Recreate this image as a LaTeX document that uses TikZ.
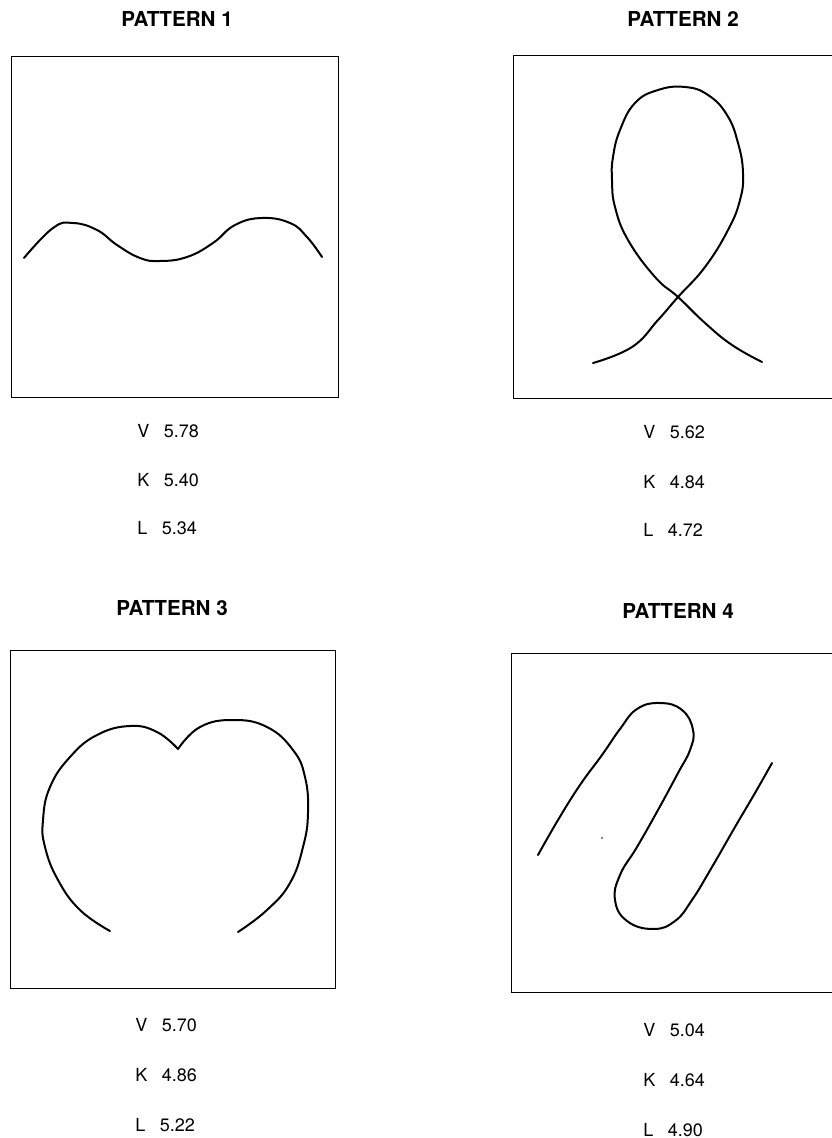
\documentclass[tikz,border=0pt]{standalone}
\usepackage{fontspec}
\setmainfont{TeX Gyre Heros}
\usepackage{tikz}
\usetikzlibrary{positioning}
\tikzset{
  frm/.style={line width=0.5pt},
  crv/.style={line width=1pt,smooth,tension=0.75,line cap=round,line join=round},
  hd/.style={font=\fontsize{10.3}{12}\selectfont\bfseries,inner sep=0pt},
  lbl/.style={font=\fontsize{9}{11}\selectfont,anchor=west,inner sep=0pt}
}
\newcommand{\val}[2]{#1\hspace{0.8em}#2}

\begin{document}
\begin{tikzpicture}[x=0.5pt,y=-0.5pt]
\useasboundingbox (0,0) rectangle (831,1138);

% pattern 1
\node[hd] (t1) at (177,19) {PATTERN 1};
\draw[frm] (11,57) rectangle (338,397);
\draw[crv] plot coordinates {(24,258) (53,228) (73,223) (97,230) (117,245) (140,258) (160,261) (187,257) (213,243) (235,225) (262,218) (290,223) (307,237) (322,257)};
\node[lbl] (v1) at (137,431) {\val{V}{5.78}};
\node[lbl] (k1) at (137,480) {\val{K}{5.40}};
\node[lbl] (l1) at (137,528) {\val{L}{5.34}};

% pattern 2
\node[hd] (t2) at (683,19) {PATTERN 2};
\draw[frm] (513,56) rectangle (840,398);
\draw[crv] plot coordinates {(593,363) (632,347) (658,320) (678,297) (705,267) (728,230) (740,200) (743,173) (738,143) (727,115) (708,95) (685,87) (658,90) (635,103) (620,130) (613,157) (612,180) (615,207) (628,240) (655,277) (678,297) (705,323) (732,345) (762,362)};
\node[lbl] (v2) at (643,432) {\val{V}{5.62}};
\node[lbl] (k2) at (643,482) {\val{K}{4.84}};
\node[lbl] (l2) at (643,530) {\val{L}{4.72}};

% pattern 3
\node[hd] (t3) at (172,608) {PATTERN 3};
\draw[frm] (10,650) rectangle (335,988);
\draw[crv] plot coordinates {(110,931) (80,910) (58,880) (45,847) (43,820) (50,787) (70,757) (97,735) (130,726) (157,732) (178,749)};
\draw[crv] plot coordinates {(178,749) (200,727) (233,720) (267,727) (293,750) (305,777) (308,813) (303,847) (290,883) (267,910) (238,932)};
\node[lbl] (v3) at (135,1025) {\val{V}{5.70}};
\node[lbl] (k3) at (135,1075) {\val{K}{4.86}};
\node[lbl] (l3) at (135,1125) {\val{L}{5.22}};

% pattern 4
\node[hd] (t4) at (678,611) {PATTERN 4};
\draw[frm] (511,653) rectangle (840,992);
\draw[crv] plot coordinates {(538,855) (558,820) (580,785) (602,755) (620,729) (637,709) (660,703) (682,710) (693,730) (690,750) (678,773) (658,810) (637,847) (620,875) (615,900) (627,921) (653,929) (675,921) (692,900) (712,867) (735,827) (755,793) (772,763)};
\fill (602,838) circle (0.8);
\node[lbl] (v4) at (643,1030) {\val{V}{5.04}};
\node[lbl] (k4) at (643,1080) {\val{K}{4.64}};
\node[lbl] (l4) at (643,1130) {\val{L}{4.90}};
\end{tikzpicture}
\end{document}
